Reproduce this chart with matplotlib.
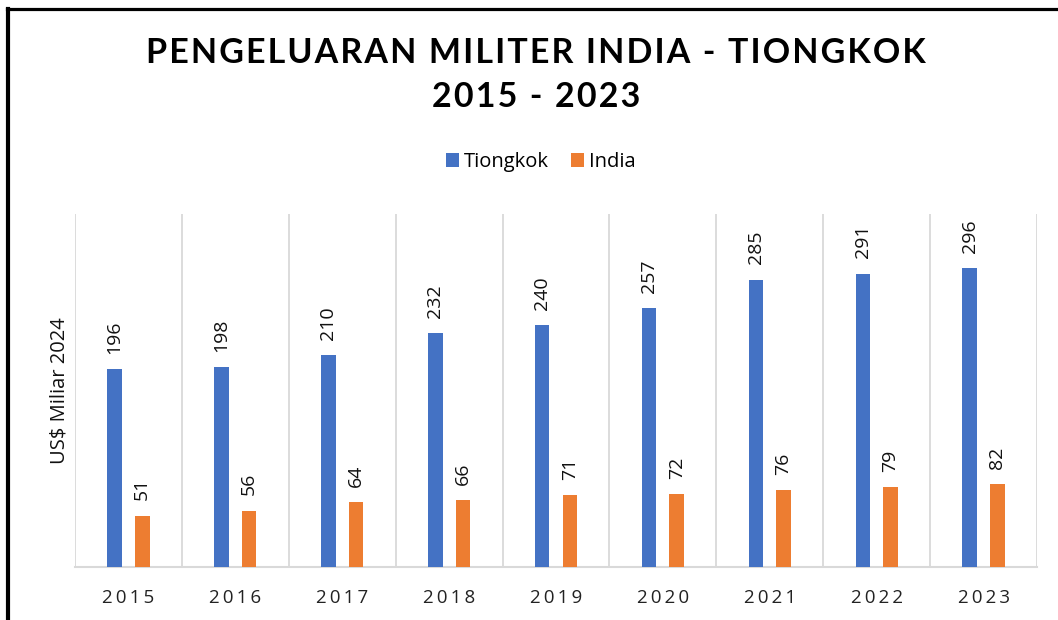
import matplotlib
matplotlib.use("Agg")
import matplotlib.pyplot as plt
from matplotlib.lines import Line2D
import numpy as np

years = ["2015", "2016", "2017", "2018", "2019", "2020", "2021", "2022", "2023"]
china = [196, 198, 210, 232, 240, 257, 285, 291, 296]
india = [51, 56, 64, 66, 71, 72, 76, 79, 82]
series_names = ["Tiongkok", "India"]
title_line1 = "PENGELUARAN MILITER INDIA - TIONGKOK"
title_line2 = "2015 - 2023"
ylabel = "US$ Miliar 2024"

BLUE = "#4472C4"
ORANGE = "#ED7D31"
GRID = "#D9D9D9"
FONT = ["Open Sans", "DejaVu Sans"]
TFONT = ["Lato", "DejaVu Sans"]

W, H = 1058, 620
fig = plt.figure(figsize=(W / 100, H / 100), dpi=100)
fig.patch.set_facecolor("white")


def spaced(s, sep="\u2009"):
    return sep.join(list(s))


ax = fig.add_axes([75 / W, 1 - 567 / H, (1037 - 75) / W, (567 - 214) / H])
x = np.arange(len(years))
bw = 0.136
off = 0.129
b1 = ax.bar(x - off, china, width=bw, color=BLUE, label=series_names[0], zorder=3)
b2 = ax.bar(x + off, india, width=bw, color=ORANGE, label=series_names[1], zorder=3)

ax.set_xlim(-0.5, len(years) - 0.5)
ax.set_ylim(0, 350)
for b in np.arange(-0.5, len(years), 1.0):
    ax.axvline(b, color=GRID, lw=1.3, zorder=1)
for s in ["top", "right", "left"]:
    ax.spines[s].set_visible(False)
ax.spines["bottom"].set_color(GRID)
ax.spines["bottom"].set_linewidth(1.5)
ax.set_yticks([])
ax.set_xticks(x)
ax.set_xticklabels([spaced(y) for y in years], family=FONT, fontsize=13.5, color="#222222")
ax.tick_params(axis="x", length=0, pad=16)

for bars, vals in ((b1, china), (b2, india)):
    for rect, v in zip(bars, vals):
        ax.annotate(str(v), (rect.get_x() + rect.get_width() / 2, rect.get_height()),
                    xytext=(0, 11), textcoords="offset points", rotation=90,
                    ha="center", va="bottom", family=FONT, fontsize=14, color="#111111")

ax.set_ylabel(ylabel, family=FONT, fontsize=14.5, color="#111111", labelpad=4)

fig.text(536 / W, 1 - 53 / H, spaced(title_line1, "\u200a"), ha="center", va="center",
         family=TFONT, fontweight="bold", fontsize=24.5, color="black")
fig.text(536 / W, 1 - 97 / H, spaced(title_line2, "\u200a"), ha="center", va="center",
         family=TFONT, fontweight="bold", fontsize=24.5, color="black")

leg = fig.legend(handles=[b1, b2], labels=series_names, loc="center",
                 bbox_to_anchor=(541 / W, 1 - 162 / H), ncol=2, frameon=False,
                 prop={"family": FONT, "size": 14.5}, handlelength=0.65, handleheight=0.65,
                 handletextpad=0.25, columnspacing=1.1)

fig.add_artist(Line2D([8 / W, 8 / W], [0, 1 - 9 / H], color="black", lw=3, transform=fig.transFigure))
fig.add_artist(Line2D([6.5 / W, 1], [1 - 9 / H, 1 - 9 / H], color="black", lw=2.3, transform=fig.transFigure))

fig.savefig("out.png", dpi=100, facecolor="white")
